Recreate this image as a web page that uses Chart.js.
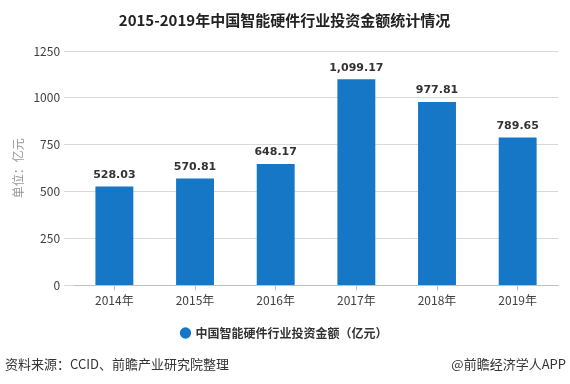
<!DOCTYPE html>
<html>
<head>
<meta charset="utf-8">
<script src="https://cdn.jsdelivr.net/npm/chart.js@4"></script>
<style>
    html, body { margin: 0; padding: 0; background: #fff; }
    #wrap { width: 570px; height: 384px; position: relative; }
</style>
</head>
<body>
<div id="wrap"><canvas id="investChart"></canvas></div>
<script>
// Chart data
const years = ['2014年', '2015年', '2016年', '2017年', '2018年', '2019年'];
const investment = [528.03, 570.81, 648.17, 1099.17, 977.81, 789.65];
const seriesName = '中国智能硬件行业投资金额（亿元）';
const yTicks = [0, 250, 500, 750, 1000, 1250];

const BAR_BLUE = '#1677c7';
const CJK = '"Noto Sans CJK SC", "Noto Sans", sans-serif';

// Value labels above bars + source footer
const extrasPlugin = {
    id: 'extras',
    afterDatasetsDraw(chart) {
        const ctx = chart.ctx;
        const meta = chart.getDatasetMeta(0);
        ctx.save();
        ctx.font = 'bold 11px "DejaVu Sans", sans-serif';
        ctx.fillStyle = '#333';
        ctx.textAlign = 'center';
        ctx.textBaseline = 'bottom';
        meta.data.forEach((bar, i) => {
            const txt = investment[i].toLocaleString('en-US', { minimumFractionDigits: 2 });
            ctx.fillText(txt, bar.x, bar.y - 6);
        });
        ctx.restore();
    },
    afterDraw(chart) {
        const ctx = chart.ctx;
        ctx.save();
        ctx.font = '13px ' + CJK;
        ctx.fillStyle = '#333';
        ctx.textBaseline = 'middle';
        ctx.textAlign = 'left';
        ctx.fillText('资料来源：CCID、前瞻产业研究院整理', 5, 364);
        ctx.textAlign = 'right';
        ctx.fillText('@前瞻经济学人APP', 566, 364);
        ctx.restore();
    }
};

const ctx = document.getElementById('investChart').getContext('2d');
const investChart = new Chart(ctx, {
    type: 'bar',
    data: {
        labels: years,
        datasets: [{
            label: seriesName,
            data: investment,
            backgroundColor: BAR_BLUE,
            barPercentage: 0.47,
            categoryPercentage: 1.0
        }]
    },
    options: {
        responsive: true,
        maintainAspectRatio: false,
        animation: false,
        layout: { padding: { left: 11, right: 12, top: 0, bottom: 35 } },
        plugins: {
            title: {
                display: true,
                text: '2015-2019年中国智能硬件行业投资金额统计情况',
                color: '#222',
                font: { family: CJK, size: 15, weight: 'bold' },
                padding: { top: 11, bottom: 22 }
            },
            legend: {
                position: 'bottom',
                labels: {
                    usePointStyle: true,
                    pointStyle: 'circle',
                    boxWidth: 8,
                    boxHeight: 8,
                    color: '#333',
                    padding: 10,
                    font: { family: CJK, size: 12, weight: 'bold' }
                }
            },
            tooltip: { enabled: false }
        },
        scales: {
            x: {
                grid: {
                    offset: false,
                    drawOnChartArea: false,
                    drawTicks: true,
                    tickLength: 5,
                    color: '#bfbfbf'
                },
                border: { color: '#bfbfbf' },
                ticks: { color: '#404040', font: { family: CJK, size: 12 }, padding: 3 },
                afterFit(axis) {
                    axis.height += 6;
                }
            },
            y: {
                min: 0,
                max: 1250,
                afterBuildTicks(axis) {
                    axis.ticks = yTicks.map(v => ({ value: v }));
                },
                grid: { color: '#d9d9d9', tickLength: 10 },
                border: { display: false },
                ticks: {
                    color: '#404040',
                    font: { family: CJK, size: 12 },
                    padding: 4,
                    callback: v => String(v)
                },
                title: {
                    display: true,
                    text: '单位：亿元',
                    color: '#999',
                    font: { family: CJK, size: 12 },
                    padding: { top: 0, bottom: 4 }
                }
            }
        }
    },
    plugins: [extrasPlugin]
});
</script>
</body>
</html>
